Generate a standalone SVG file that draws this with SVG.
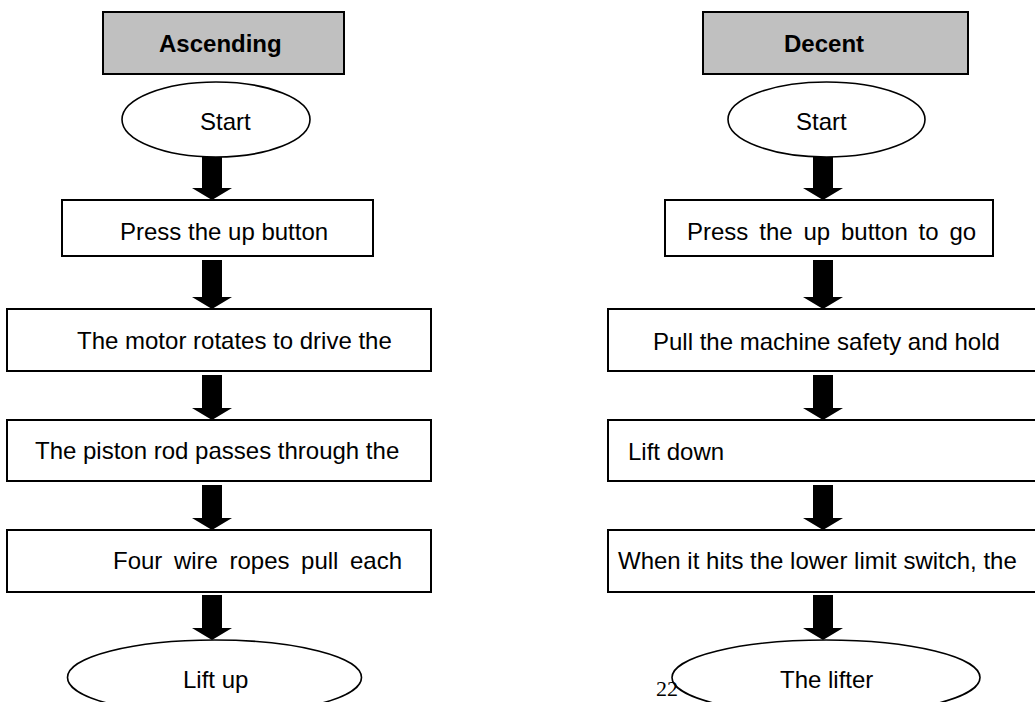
<svg xmlns="http://www.w3.org/2000/svg" width="1035" height="702" viewBox="0 0 1035 702">
<style>
.t{font-family:"Liberation Sans",Arial,sans-serif;font-size:24px;fill:#000}
.b{font-weight:bold}
.box{fill:#fff;stroke:#000;stroke-width:2}
.hdr{fill:#c0c0c0;stroke:#000;stroke-width:2}
.ell{fill:#fff;stroke:#000;stroke-width:1.6}
.arr{fill:#000;stroke:none}
.pg{font-family:"Liberation Serif","Times New Roman",serif;font-size:22px;fill:#000}
</style>
<rect width="1035" height="702" fill="#fff"/>
<g id="ascending-header"><rect class="hdr" x="103" y="12" width="241" height="62"/><text class="t b" x="159" y="52">Ascending</text></g>
<g id="asc-start"><ellipse class="ell" cx="216" cy="119.5" rx="94" ry="37.5"/><text class="t" x="200" y="130">Start</text></g>
<g id="asc-press"><rect class="box" x="62" y="200" width="311" height="56"/><text class="t" x="120" y="240">Press the up button</text></g>
<g id="asc-motor"><rect class="box" x="7" y="309" width="424" height="62"/><text class="t" x="77" y="349">The motor rotates to drive the</text></g>
<g id="asc-piston"><rect class="box" x="7" y="420" width="424" height="61"/><text class="t" x="35" y="459">The piston rod passes through the</text></g>
<g id="asc-four"><rect class="box" x="7" y="530" width="424" height="62"/><text class="t" x="113" y="569" word-spacing="4.9">Four wire ropes pull each</text></g>
<g id="asc-liftup"><ellipse class="ell" cx="214.5" cy="677.5" rx="147" ry="37.5"/><text class="t" x="183" y="688">Lift up</text></g>

<g id="decent-header"><rect class="hdr" x="703" y="12" width="265" height="62"/><text class="t b" x="784" y="52">Decent</text></g>
<g id="dec-start"><ellipse class="ell" cx="826.5" cy="119.5" rx="98.5" ry="37.5"/><text class="t" x="796" y="130">Start</text></g>
<g id="dec-press"><rect class="box" x="665" y="200" width="328" height="56"/><text class="t" x="687" y="240" word-spacing="4.2">Press the up button to go</text></g>
<g id="dec-pull"><rect class="box" x="608" y="309" width="440" height="62"/><text class="t" x="653" y="350">Pull the machine safety and hold</text></g>
<g id="dec-liftdown"><rect class="box" x="608" y="420" width="440" height="61"/><text class="t" x="628" y="460">Lift down</text></g>
<g id="dec-when"><rect class="box" x="608" y="530" width="440" height="62"/><text class="t" x="618" y="569">When it hits the lower limit switch, the</text></g>
<g id="dec-lifter"><ellipse class="ell" cx="826" cy="677.5" rx="154" ry="37.5"/><text class="t" x="780" y="688">The lifter</text></g>

<g id="connectors">
<polygon class="arr" points="202,157 222,157 222,188 232,188 212,200 192,188 202,188"/>
<polygon class="arr" points="202,260 222,260 222,297 232,297 212,309 192,297 202,297"/>
<polygon class="arr" points="202,375 222,375 222,408 232,408 212,420 192,408 202,408"/>
<polygon class="arr" points="202,485 222,485 222,518 232,518 212,530 192,518 202,518"/>
<polygon class="arr" points="202,595 222,595 222,628 232,628 212,640 192,628 202,628"/>
<polygon class="arr" points="813,157 833,157 833,188 843,188 823,200 803,188 813,188"/>
<polygon class="arr" points="813,260 833,260 833,297 843,297 823,309 803,297 813,297"/>
<polygon class="arr" points="813,375 833,375 833,408 843,408 823,420 803,408 813,408"/>
<polygon class="arr" points="813,485 833,485 833,518 843,518 823,530 803,518 813,518"/>
<polygon class="arr" points="813,595 833,595 833,628 843,628 823,640 803,628 813,628"/>
</g>
<text class="pg" x="656" y="696">22</text>
</svg>
